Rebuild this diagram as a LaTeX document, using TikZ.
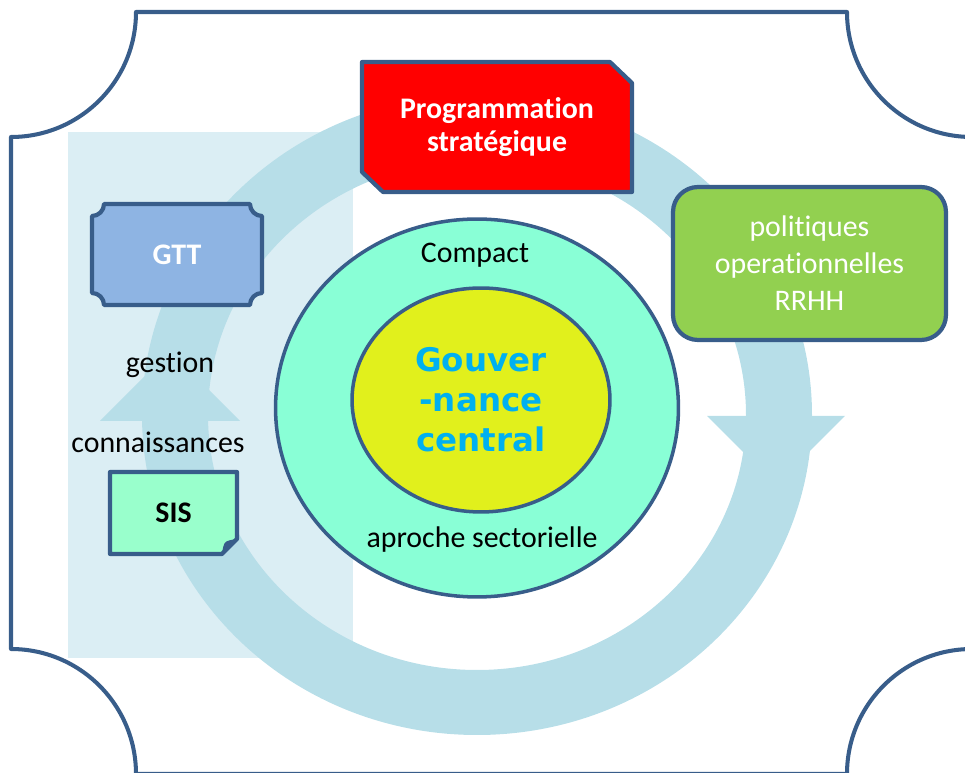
\documentclass[tikz,border=0pt]{standalone}
\usepackage{fontspec}
\setmainfont{Carlito}[Ligatures=CommonOff]
\newfontfamily\govfont{DejaVu Sans}
\usetikzlibrary{calc}
\usetikzlibrary{backgrounds}
\usetikzlibrary{shapes.geometric}
\definecolor{frameblue}{RGB}{56,93,138}
\definecolor{paleblue}{RGB}{219,238,244}
\definecolor{bandblue}{RGB}{183,222,232}
\definecolor{compactgreen}{RGB}{137,255,214}
\definecolor{govyellow}{RGB}{225,240,28}
\definecolor{govtext}{RGB}{0,176,240}
\definecolor{gttblue}{RGB}{142,180,227}
\definecolor{polgreen}{RGB}{146,208,80}
\definecolor{sisgreen}{RGB}{153,255,204}
\tikzstyle{frameline}=[draw=frameblue,line width=2.3pt,line join=round]
\tikzstyle{boxline}=[draw=frameblue,line width=2.4pt,line join=round]
\tikzstyle{ringtext}=[anchor=base,inner sep=0pt,font=\fontsize{17}{20}\selectfont]
\tikzstyle{boxtext}=[inner sep=0pt,outer sep=0pt,align=center,font=\fontsize{17}{19}\selectfont\bfseries]

\begin{document}
\begin{tikzpicture}[x=0.02cm, y=-0.02cm]
    \useasboundingbox (0,0) rectangle (965,773);
    \clip (0,0) rectangle (965,773);
    \draw[frameline] (136,12) -- (847,12) arc[start angle=180, end angle=90, radius=125]
        -- (972,649) arc[start angle=270, end angle=180, radius=125]
        -- (136,774) arc[start angle=360, end angle=270, radius=125]
        -- (11,137) arc[start angle=90, end angle=0, radius=125] -- cycle;
    \node[ellipse, draw=frameblue, line width=2pt, fill=compactgreen, inner sep=0pt,
        minimum width=8.06cm, minimum height=7.56cm] (compact) at (477,408) {};
    \node[ellipse, draw=frameblue, line width=2pt, fill=govyellow, inner sep=0pt,
        minimum width=5.16cm, minimum height=4.48cm, align=center, text=govtext,
        font=\govfont\bfseries\fontsize{18.5}{22.7}\selectfont] (gov) at (481,400) {Gouver\\-nance\\central};
    \foreach \name/\x/\y/\txt in {cpt/475/263/Compact, sect/482/548/aproche sectorielle,
        gest/170/373/gestion, conn/158/453/connaissances}
        \node[ringtext] (\name) at (\x,\y) {\txt};
    \node[boxtext, text=white, minimum width=5.4cm, minimum height=2.6cm] (prog) at (497,127) {Programmation\\strat\'egique};
    \node[boxtext, text=white, minimum width=3.4cm, minimum height=2.02cm] (gtt) at (177,254.5) {GTT};
    \node[boxline, fill=polgreen, rounded corners=0.5cm, text=white, align=center, inner sep=0pt,
        minimum width=5.46cm, minimum height=3.06cm, font=\fontsize{17}{21}\selectfont] (pol) at (809.5,263.5) {politiques\\operationnelles\\RRHH};
    \node[boxtext, minimum width=2.54cm, minimum height=1.64cm] (sis) at (173.5,513) {SIS};

    \begin{scope}[on background layer]
        \fill[paleblue] (68,132) rectangle (353,658);
        \fill[bandblue, even odd rule] (477,415) ellipse[x radius=335, y radius=320]
            (477,415) ellipse[x radius=269, y radius=255];
        \fill[bandblue] (707,416) -- (845,416) -- (776,485) -- cycle;
        \fill[bandblue] (100,421) -- (240,421) -- (170,351) -- cycle;
        \draw[boxline, fill=red] (prog.north west) -- ($(prog.north east)+(-22,0)$)
            -- ($(prog.north east)+(0,21)$) -- (prog.south east)
            -- ($(prog.south west)+(21,0)$) -- ($(prog.south west)+(0,-20)$) -- cycle;
        \draw[boxline, fill=gttblue] ($(gtt.north west)+(12,0)$) -- ($(gtt.north east)+(-12,0)$)
            arc[start angle=180, end angle=90, radius=12] -- ($(gtt.south east)+(0,-12)$)
            arc[start angle=270, end angle=180, radius=12] -- ($(gtt.south west)+(12,0)$)
            arc[start angle=0, end angle=-90, radius=12] -- ($(gtt.north west)+(0,12)$)
            arc[start angle=90, end angle=0, radius=12] -- cycle;
        \draw[boxline, fill=sisgreen] (sis.north west) -- (sis.north east)
            -- ($(sis.south east)+(0,-15)$) -- ($(sis.south east)+(-15,0)$) -- (sis.south west) -- cycle;
        \fill[frameblue] ($(sis.south east)+(-15,0)$) -- ($(sis.south east)+(0,-15)$)
            .. controls ($(sis.south east)+(-13,-13)$) .. cycle;
    \end{scope}
\end{tikzpicture}
\end{document}
